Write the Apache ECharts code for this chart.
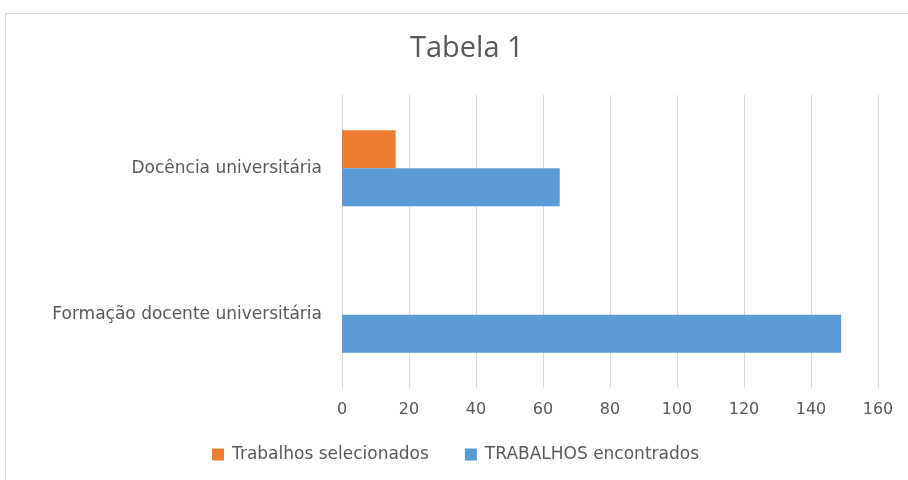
<!DOCTYPE html>
<html><head><meta charset="utf-8">
<script src="https://cdn.jsdelivr.net/npm/echarts@6/dist/echarts.min.js"></script>
<style>html,body{margin:0;padding:0;background:#fff}#c{width:908px;height:480px}</style>
</head><body><div id="c"></div>
<script>
const categories = ['Formação docente universitária', 'Docência universitária'];
const seriesNames = ['Trabalhos selecionados', 'TRABALHOS encontrados'];
const selecionados = [0, 16];
const encontrados = [149, 65];
const xMin = 0, xMax = 160, xStep = 20;

const chart = echarts.init(document.getElementById('c'));
const font = 'Open Sans';
const wide = 'DejaVu Sans';
chart.setOption({
  backgroundColor: '#fff',
  animation: false,
  graphic: [{
    type: 'rect', shape: {x: 5.5, y: 13.5, width: 950, height: 500},
    style: {fill: 'none', stroke: '#d9d9d9', lineWidth: 1}, silent: true
  }],
  title: {
    text: 'Tabela 1', left: 405, top: 29,
    textStyle: {fontFamily: font, fontSize: 29, fontWeight: 'normal', color: '#595959'}
  },
  legend: {
    data: seriesNames, bottom: 12, left: 207, itemWidth: 12, itemHeight: 12, itemGap: 36,
    icon: 'rect',
    textStyle: {fontFamily: wide, fontSize: 17, color: '#595959', padding: [0, 0, 0, 3]}
  },
  grid: {left: 342, right: 30, top: 95, bottom: 92, containLabel: false},
  xAxis: {
    type: 'value', min: xMin, max: xMax, interval: xStep,
    axisLine: {show: false}, axisTick: {show: false},
    splitLine: {lineStyle: {color: '#d9d9d9', width: 1}},
    axisLabel: {fontFamily: wide, fontSize: 16, color: '#595959', margin: 14}
  },
  yAxis: {
    type: 'category', data: categories,
    axisLine: {show: true, lineStyle: {color: '#d9d9d9'}}, axisTick: {show: false},
    axisLabel: {fontFamily: wide, fontSize: 17, color: '#595959', margin: 20}
  },
  series: [
    {name: seriesNames[0], type: 'bar', data: selecionados, itemStyle: {color: '#ed7d31'}, barGap: '0%', barCategoryGap: '48%'},
    {name: seriesNames[1], type: 'bar', data: encontrados, itemStyle: {color: '#5b9bd5'}, barGap: '0%', barCategoryGap: '48%'}
  ]
});
</script></body></html>
